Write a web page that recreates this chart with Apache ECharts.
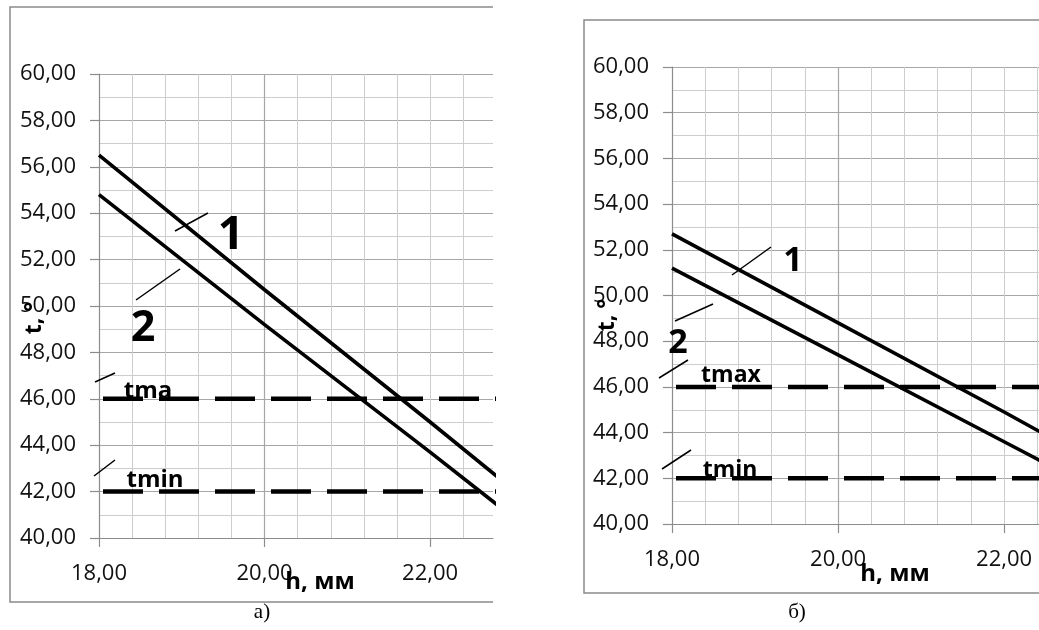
<!DOCTYPE html>
<html>
<head>
<meta charset="utf-8">
<script src="https://cdn.jsdelivr.net/npm/echarts@6/dist/echarts.min.js"></script>
<style>
  html, body { margin: 0; padding: 0; background: #fff; }
  #chart { width: 1039px; height: 630px; }
</style>
</head>
<body>
<div id="chart"></div>
<script>
// h, мм tick labels and t tick labels
const hTicks = [18, 20, 22]
const tTicks = [40, 42, 44, 46, 48, 50, 52, 54, 56, 58, 60]

// panel а)
const hA = [18, 20, 22, 23]
const tA1 = [56.5, 50.7, 45.0, 42.1]
const tA2 = [54.8, 49.2, 43.7, 40.9]

// panel б)
const hB = [18, 20, 22, 23]
const tB1 = [52.7, 48.8, 44.9, 42.9]
const tB2 = [51.2, 47.4, 43.6, 41.7]

// limits tmax / tmin
const limitH = [18, 23]
const tMax = 46
const tMin = 42

const fmt = v => Number(v).toFixed(2).replace('.', ',')
const LABEL_FONT = '"Open Sans", "Liberation Sans", sans-serif'
const MINOR = '#cdcdcd'
const MAJOR = '#a6a6a6'
const AXIS = '#8c8c8c'

const panels = [
  { grid: { left: 99, top: 74, width: 394, height: 464 }, xMax: 22.76 },
  { grid: { left: 672, top: 67, width: 367, height: 457 }, xMax: 22.42 },
]

const grid = panels.map(p => ({ ...p.grid, containLabel: false, outerBoundsMode: 'none' }))
const xAxis = []
const yAxis = []
panels.forEach((p, i) => {
  xAxis.push({
    type: 'value', gridIndex: i, position: 'bottom', min: 18, max: p.xMax, interval: 0.4,
    axisLine: { show: false }, axisTick: { show: false }, axisLabel: { show: false },
    splitLine: { show: true, showMinLine: false, showMaxLine: false, lineStyle: { color: MINOR, width: 1 } },
  })
  xAxis.push({
    type: 'value', gridIndex: i, position: 'bottom', min: 18, max: p.xMax, interval: 2,
    axisLine: { show: true, onZero: false, lineStyle: { color: AXIS, width: 1.2 } },
    axisTick: { show: true, inside: false, length: 9, customValues: hTicks, lineStyle: { color: AXIS, width: 1.2 } },
    axisLabel: {
      show: true, customValues: hTicks, margin: 25, formatter: fmt,
      color: '#111', fontSize: 22, fontFamily: LABEL_FONT,
    },
    splitLine: { show: true, showMinLine: false, showMaxLine: false, lineStyle: { color: MAJOR, width: 1.2 } },
  })
  yAxis.push({
    type: 'value', gridIndex: i, position: 'left', min: 40, max: 60, interval: 1,
    axisLine: { show: false }, axisTick: { show: false }, axisLabel: { show: false },
    splitLine: { show: true, showMinLine: false, showMaxLine: false, lineStyle: { color: MINOR, width: 1 } },
  })
  yAxis.push({
    type: 'value', gridIndex: i, position: 'left', min: 40, max: 60, interval: 2,
    axisLine: { show: true, onZero: false, lineStyle: { color: AXIS, width: 1.2 } },
    axisTick: { show: true, inside: false, length: 9, customValues: tTicks, lineStyle: { color: AXIS, width: 1.2 } },
    axisLabel: {
      show: true, customValues: tTicks, margin: 23, formatter: fmt,
      color: '#111', fontSize: 22, fontFamily: LABEL_FONT,
    },
    splitLine: { show: true, showMinLine: false, lineStyle: { color: MAJOR, width: 1.2 } },
  })
})

const zip = (xs, ys) => xs.map((x, k) => [x, ys[k]])
const curve = (i, xs, ys) => ({
  type: 'line', xAxisIndex: i * 2 + 1, yAxisIndex: i * 2 + 1,
  data: zip(xs, ys), symbol: 'none', clip: true, silent: true,
  lineStyle: { color: '#000', width: 3.6 }, z: 5,
})
const limit = (i, t) => ({
  type: 'line', xAxisIndex: i * 2 + 1, yAxisIndex: i * 2 + 1,
  data: limitH.map(h => [h, t]), symbol: 'none', clip: true, silent: true,
  lineStyle: { color: '#000', width: 4.5, type: [40, 16], dashOffset: -4, cap: 'butt' }, z: 4,
})

const series = [
  curve(0, hA, tA1), curve(0, hA, tA2), limit(0, tMax), limit(0, tMin),
  curve(1, hB, tB1), curve(1, hB, tB2), limit(1, tMax), limit(1, tMin),
]

const BOLD = 'bold {s}px "Open Sans", "Liberation Sans", sans-serif'
const txt = (text, x, y, size, extra) => ({
  type: 'text', x, y, z: 20, ...extra,
  style: { text, font: BOLD.replace('{s}', size), fill: '#000', textAlign: 'center', textVerticalAlign: 'middle' },
})
const leader = (x1, y1, x2, y2) => ({
  type: 'line', z: 20, shape: { x1, y1, x2, y2 }, style: { stroke: '#000', lineWidth: 1.5 },
})
const caption = (text, x, y) => ({
  type: 'text', x, y, z: 20,
  style: { text, font: '21px "Liberation Serif", "DejaVu Serif", serif', fill: '#000', textAlign: 'center', textVerticalAlign: 'middle' },
})
const frame = points => ({
  type: 'polyline', z: 1, shape: { points }, style: { stroke: '#8a8a8a', lineWidth: 1.5, fill: null },
})

const graphic = [
  // frames
  frame([[493, 7], [10, 7], [10, 602], [493, 602]]),
  frame([[1039, 20], [584, 20], [584, 593], [1039, 593]]),
  // panel а)
  leader(175, 231, 208, 213), txt('1', 231, 236, 46),
  leader(136, 300, 180, 269), txt('2', 143, 329, 43),
  leader(95, 382, 115, 373), txt('tma', 148, 391, 24),
  leader(94, 476, 115, 460), txt('tmin', 155, 480, 24),
  txt('t, °', 34, 318, 23, { rotation: Math.PI / 2 }),
  txt('h, мм', 320, 582, 24),
  caption('а)', 262, 612),
  // panel б)
  leader(732, 275, 771, 247), txt('1', 793, 261, 34),
  leader(675, 321, 713, 304), txt('2', 678, 343, 34),
  leader(659, 378, 688, 360), txt('tmax', 731, 375, 23),
  leader(662, 469, 691, 450), txt('tmin', 730, 470, 23),
  txt('t, °', 607, 315, 23, { rotation: Math.PI / 2 }),
  txt('h, мм', 895, 574, 24),
  caption('б)', 797, 612),
]

const chart = echarts.init(document.getElementById('chart'), null, { renderer: 'canvas' })
chart.setOption({
  animation: false,
  backgroundColor: '#fff',
  grid, xAxis, yAxis, series, graphic,
})
window.addEventListener('resize', () => chart.resize())
</script>
</body>
</html>
